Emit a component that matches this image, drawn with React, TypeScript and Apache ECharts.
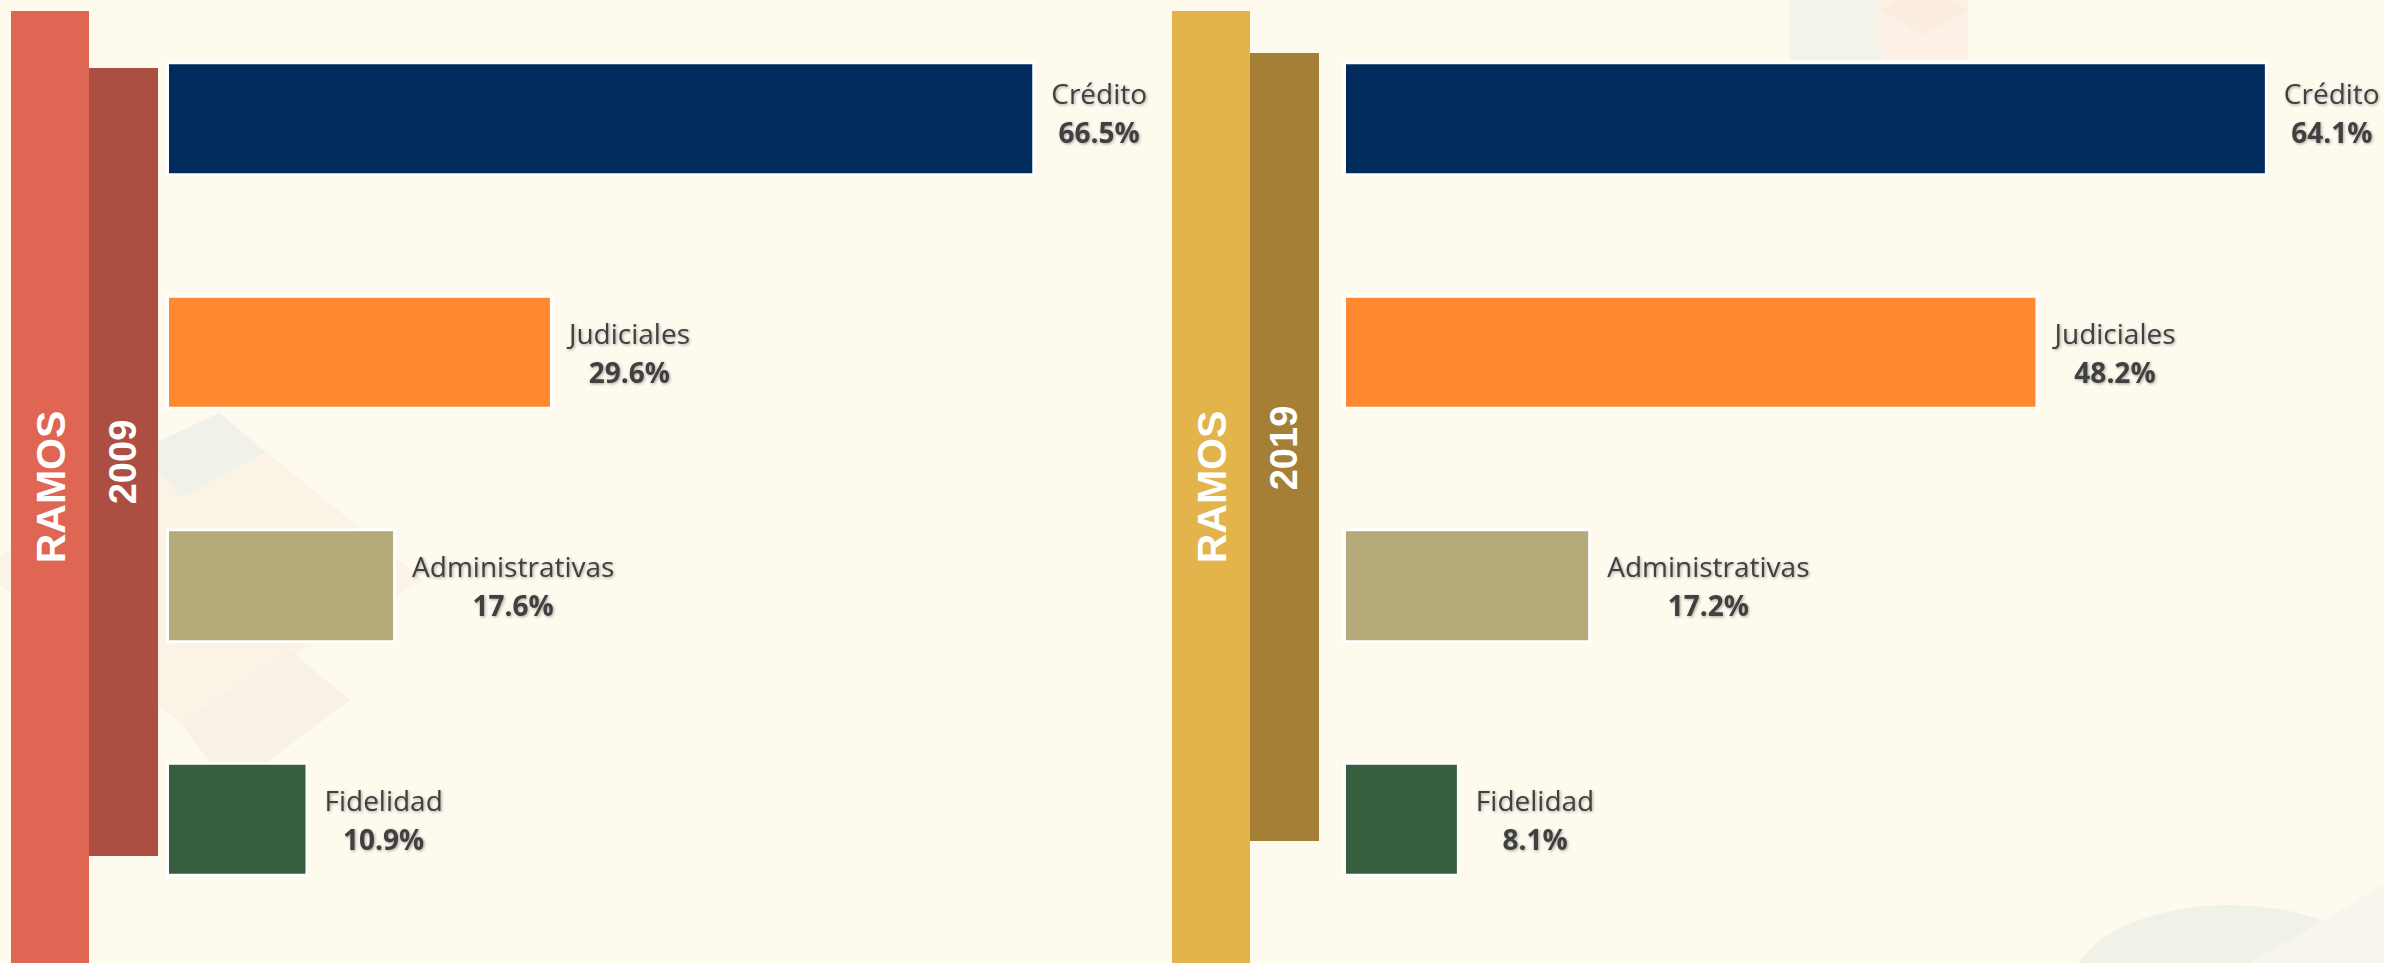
import React, { useEffect, useRef } from "react";
import * as echarts from "echarts";

const categories = ["Crédito", "Judiciales", "Administrativas", "Fidelidad"];
const values2009 = [66.5, 29.6, 17.6, 10.9];
const values2019 = [64.1, 48.2, 17.2, 8.1];
const barColors = ["#002B5C", "#FF8830", "#B5AA7A", "#375E3F"];
const sideTitle = "RAMOS";
const years = ["2009", "2019"];

const W = 2384;
const H = 963;

const shadow = {
  textShadowColor: "rgba(0,0,0,0.35)",
  textShadowBlur: 3,
  textShadowOffsetX: 1,
  textShadowOffsetY: 1,
};

function makeSeries(values: number[], idx: number) {
  return {
    type: "bar",
    xAxisIndex: idx,
    yAxisIndex: idx,
    barWidth: 115,
    silent: true,
    data: values.map((v, i) => ({
      value: v,
      name: categories[i],
      itemStyle: { color: barColors[i], borderColor: "#FFFFFF", borderWidth: 3 },
      label: i === 0 ? { offset: [0, -6] } : undefined,
    })),
    label: {
      show: true,
      position: "right",
      distance: 16,
      formatter: (p: any) => `{n|${p.name}}\n{v|${Number(p.value).toFixed(1)}%}`,
      ...shadow,
      rich: {
        n: {
          fontFamily: "Open Sans",
          fontSize: 28,
          color: "#404040",
          lineHeight: 39,
          align: "center",
          ...shadow,
        },
        v: {
          fontFamily: "Open Sans",
          fontSize: 28,
          fontWeight: "bold",
          color: "#404040",
          lineHeight: 39,
          align: "center",
          ...shadow,
        },
      },
    },
  };
}

function sideBand(x: number, outerColor: string, innerColor: string, innerTop: number, innerBottom: number, year: string, yearY: number) {
  return [
    { type: "rect", z: 10, shape: { x: x, y: 11, width: 78, height: H - 11 }, style: { fill: outerColor } },
    { type: "rect", z: 11, shape: { x: x + 78, y: innerTop, width: 69, height: innerBottom - innerTop }, style: { fill: innerColor } },
    {
      type: "text",
      z: 12,
      x: x + 40,
      y: 487,
      rotation: Math.PI / 2,
      style: {
        text: sideTitle,
        fill: "#FFFFFF",
        font: "bold 41px 'Liberation Sans', Arial, sans-serif",
        align: "center",
        verticalAlign: "middle",
      },
    },
    {
      type: "text",
      z: 12,
      x: x + 112,
      y: yearY,
      rotation: Math.PI / 2,
      style: {
        text: year,
        fill: "#FFFFFF",
        font: "bold 38px 'Liberation Sans', Arial, sans-serif",
        align: "center",
        verticalAlign: "middle",
      },
    },
  ];
}

export default function App() {
  const ref = useRef<HTMLDivElement>(null);
  useEffect(() => {
    if (!ref.current) return;
    const chart = echarts.init(ref.current, undefined, { renderer: "svg" });
    const deco = [
      { type: "polygon", z: 0, silent: true, shape: { points: [[219, 413], [423, 580], [181, 723], [-20, 570]] }, style: { fill: "#F9EFE3", opacity: 0.7 } },
      { type: "polygon", z: 1, silent: true, shape: { points: [[219, 413], [265, 452], [181, 497], [140, 450]] }, style: { fill: "#F0F1E8" } },
      { type: "polygon", z: 1, silent: true, shape: { points: [[181, 723], [290, 650], [350, 700], [230, 790]] }, style: { fill: "#F8F2E6" } },
      { type: "rect", z: 0, silent: true, shape: { x: 1789, y: 0, width: 91, height: 60 }, style: { fill: "#F2F4EA" } },
      { type: "polygon", z: 0, silent: true, shape: { points: [[1880, 0], [1968, 0], [1968, 60], [1880, 60]] }, style: { fill: "#FDF0E6" } },
      { type: "polygon", z: 1, silent: true, shape: { points: [[1880, 10], [1923, -15], [1968, 10], [1923, 35]] }, style: { fill: "#FBECE0" } },
      { type: "ellipse", z: 0, silent: true, shape: { cx: 2230, cy: 990, rx: 160, ry: 85 }, style: { fill: "#F0F2E8" } },
      { type: "polygon", z: 1, silent: true, shape: { points: [[2384, 885], [2384, 963], [2250, 963]] }, style: { fill: "#F8F5EF" } },
    ];
    chart.setOption({
      animation: false,
      backgroundColor: "#FEFAEE",
      grid: [
        { left: 166, top: 2, width: 915, height: 934 },
        { left: 1343, top: 2, width: 1010, height: 934 },
      ],
      xAxis: [
        { type: "value", gridIndex: 0, min: 0, max: 70, show: false },
        { type: "value", gridIndex: 1, min: 0, max: 70, show: false },
      ],
      yAxis: [
        { type: "category", gridIndex: 0, data: categories, inverse: true, show: false },
        { type: "category", gridIndex: 1, data: categories, inverse: true, show: false },
      ],
      graphic: [
        ...deco,
        ...sideBand(11, "#DE6652", "#AD4E42", 68, 856, years[0], 462),
        ...sideBand(1172, "#E2B44B", "#A57F35", 53, 841, years[1], 448),
      ],
      series: [makeSeries(values2009, 0), makeSeries(values2019, 1)],
    });
    return () => chart.dispose();
  }, []);
  return <div ref={ref} style={{ position: "fixed", left: 0, top: 0, width: W, height: H }} />;
}
